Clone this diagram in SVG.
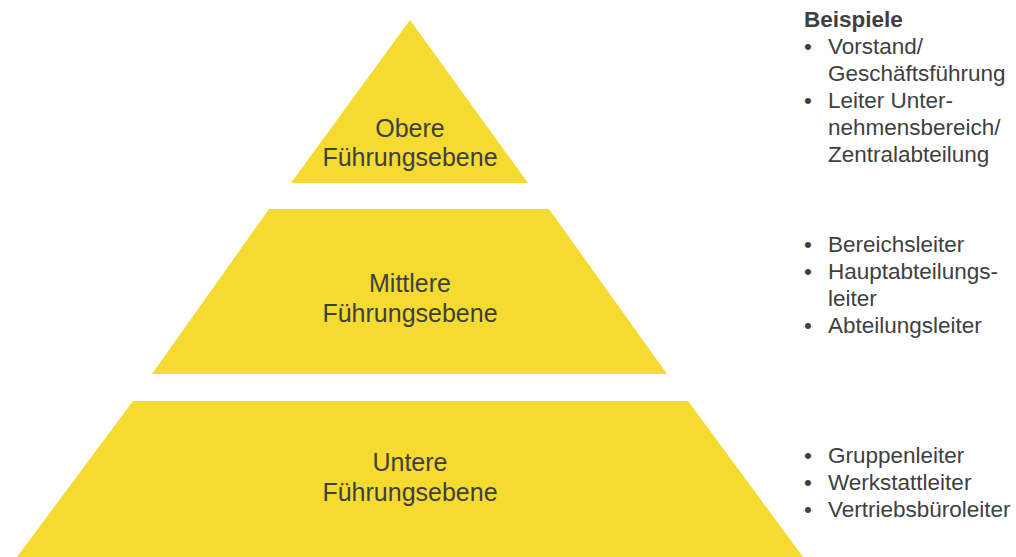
<svg xmlns="http://www.w3.org/2000/svg" width="1016" height="557" viewBox="0 0 1016 557">
<style>
.lvl{fill:#F5DA30;stroke:none}
.lbl{font-family:"Liberation Sans",Arial,sans-serif;font-size:25px;fill:#3f3f3f;text-anchor:middle}
.ex{font-family:"Liberation Sans",Arial,sans-serif;font-size:22.5px;fill:#404040}
.hd{font-weight:bold}
</style>
<rect width="1016" height="557" fill="#ffffff"/>
<g id="level-top">
<polygon class="lvl" points="410,20 528,183 291,183"/>
<text class="lbl" x="410" y="137">Obere</text>
<text class="lbl" x="410" y="166">Führungsebene</text>
</g>
<g id="level-middle">
<polygon class="lvl" points="269,209 549,209 667,374 152,374"/>
<text class="lbl" x="410" y="292">Mittlere</text>
<text class="lbl" x="410" y="322">Führungsebene</text>
</g>
<g id="level-bottom">
<polygon class="lvl" points="133,401 688,401 803,557 17,557"/>
<text class="lbl" x="410" y="471">Untere</text>
<text class="lbl" x="410" y="501">Führungsebene</text>
</g>
<g id="connectors"></g>
<g id="examples-top">
<text class="ex hd" x="804" y="27">Beispiele</text>
<text class="ex" x="804" y="54">•</text>
<text class="ex" x="828" y="54">Vorstand/</text>
<text class="ex" x="828" y="81">Geschäftsführung</text>
<text class="ex" x="804" y="108">•</text>
<text class="ex" x="828" y="108">Leiter Unter-</text>
<text class="ex" x="828" y="135">nehmensbereich/</text>
<text class="ex" x="828" y="162">Zentralabteilung</text>
</g>
<g id="examples-middle">
<text class="ex" x="804" y="252">•</text>
<text class="ex" x="828" y="252">Bereichsleiter</text>
<text class="ex" x="804" y="279">•</text>
<text class="ex" x="828" y="279">Hauptabteilungs-</text>
<text class="ex" x="828" y="306">leiter</text>
<text class="ex" x="804" y="333">•</text>
<text class="ex" x="828" y="333">Abteilungsleiter</text>
</g>
<g id="examples-bottom">
<text class="ex" x="804" y="463">•</text>
<text class="ex" x="828" y="463">Gruppenleiter</text>
<text class="ex" x="804" y="490">•</text>
<text class="ex" x="828" y="490">Werkstattleiter</text>
<text class="ex" x="804" y="517">•</text>
<text class="ex" x="828" y="517">Vertriebsbüroleiter</text>
</g>
</svg>
